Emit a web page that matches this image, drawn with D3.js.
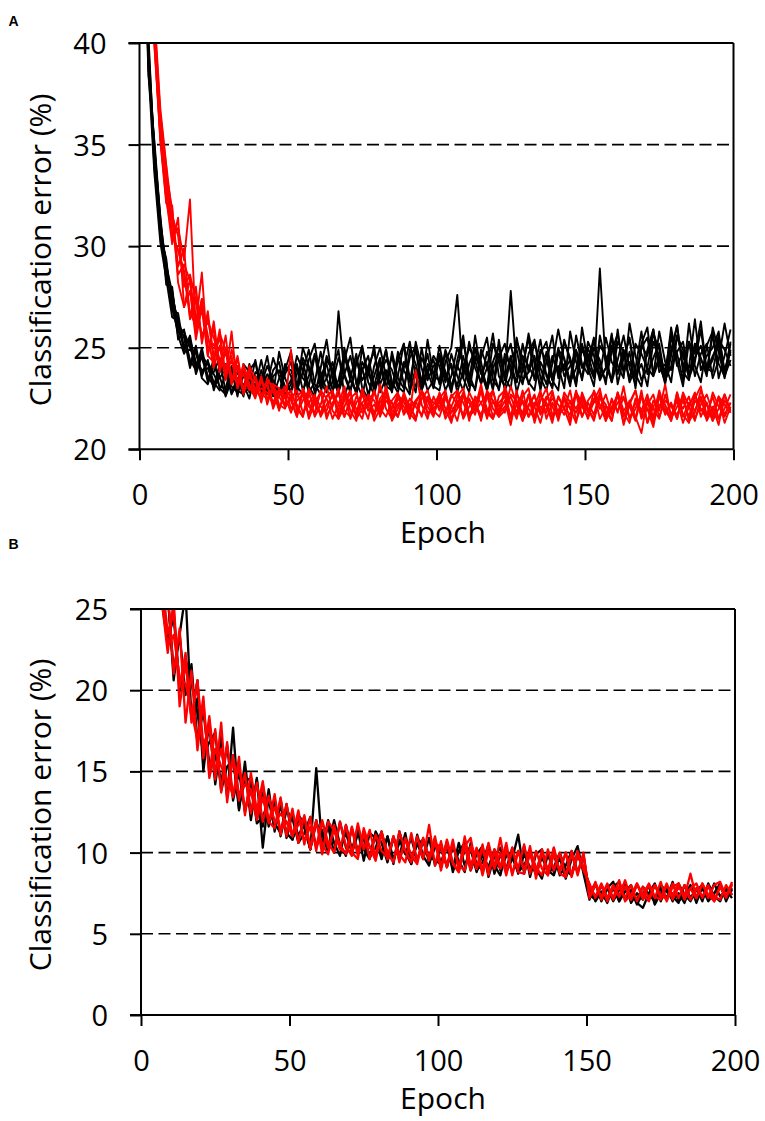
<!DOCTYPE html>
<html>
<head>
<meta charset="utf-8">
<script src="https://cdn.jsdelivr.net/npm/d3@7"></script>
<style>
html,body{margin:0;padding:0;background:#fff;}
svg{display:block;font-family:"Open Sans",sans-serif;}
</style>
</head>
<body>
<script>
// ---------- DATA ----------
// Every series holds one value per 2 epochs: epochs 1,3,5,...,199
const xTicks = [0, 50, 100, 150, 200];
const yTicksA = [20, 25, 30, 35, 40];
const yTicksB = [0, 5, 10, 15, 20, 25];
const xLabel = "Epoch";
const yLabel = "Classification error (%)";

// Panel A, black series
const blackA1 = [50.6,39.6,34.1,30.5,29.4,26.8,26.7,24.9,25.6,24.0,24.7,23.3,24.5,23.0,22.7,23.9,22.6,24.2,23.8,22.7,23.4,24.6,22.9,22.6,23.9,
 24.8,23.1,22.7,24.4,25.2,23.3,22.8,23.9,24.9,22.6,23.5,24.7,23.0,22.5,24.1,25.0,23.6,22.8,24.6,23.2,22.7,25.3,24.0,22.9,23.4,
 25.1,23.7,22.8,24.4,25.6,23.3,23.0,24.9,24.1,22.9,25.4,23.5,24.6,22.8,23.9,25.7,24.2,23.1,24.8,23.4,22.9,25.3,24.5,23.2,25.0,
 24.0,23.1,25.6,24.3,23.3,25.9,23.7,24.8,23.0,25.2,26.0,23.6,24.4,23.2,25.5,24.7,23.4,26.2,24.1,23.3,25.1,25.8,23.5,24.6,25.9];
const blackA2 = [48.6,38.4,35.2,31.4,28.1,28.0,25.4,25.9,24.2,25.1,23.6,24.4,22.9,23.8,24.2,22.8,23.5,22.6,23.9,24.3,22.8,23.2,24.5,23.6,22.7,
 23.2,24.6,23.9,22.8,23.3,24.8,23.5,22.6,26.8,23.7,22.9,24.2,25.1,23.3,22.7,23.8,24.9,23.0,23.6,25.2,22.8,24.0,23.4,24.7,23.1,
 22.9,24.3,25.0,27.6,23.5,22.8,24.6,23.9,23.1,25.2,24.4,22.9,23.6,25.5,24.0,23.3,22.9,24.7,25.3,23.6,24.1,23.0,25.8,24.3,23.5,
 25.3,24.6,23.4,24.0,25.7,23.2,24.5,25.5,23.7,23.1,24.9,25.9,24.2,23.3,24.6,26.1,23.8,23.4,25.2,24.5,23.6,26.0,24.8,23.5,24.9];
const blackA3 = [51.2,40.4,34.3,30.7,28.9,27.2,25.6,24.7,25.3,23.7,24.6,24.2,23.3,22.9,23.7,24.0,22.9,22.7,23.5,23.1,24.4,23.0,22.7,24.8,23.5,
 22.8,23.7,24.3,23.1,22.6,24.0,25.4,23.4,22.8,24.4,25.5,23.2,24.0,22.7,23.6,24.5,23.1,22.9,24.8,23.9,23.3,25.0,22.9,23.7,24.6,
 24.1,22.9,23.6,25.0,24.2,23.1,25.6,23.8,22.9,24.3,25.1,23.4,27.8,23.9,23.2,24.7,25.4,23.5,22.9,24.2,25.9,24.4,23.3,24.0,25.2,
 23.9,25.0,24.4,23.2,25.6,24.1,23.5,26.2,24.6,23.4,24.0,25.7,24.9,23.6,26.0,24.3,23.1,25.3,24.7,26.3,23.8,24.4,25.6,23.9,24.8];
const blackA4 = [49.4,38.7,33.6,30.2,28.4,26.5,26.3,25.5,24.0,24.9,23.5,23.2,24.1,23.6,22.6,23.4,24.1,22.8,23.0,24.4,22.9,23.7,23.2,22.6,24.2,
 23.6,22.7,24.5,23.9,22.9,23.2,24.6,23.8,22.7,25.0,23.4,22.9,24.3,23.7,25.1,22.8,23.5,24.6,23.1,22.8,24.9,24.2,23.0,25.4,23.6,
 23.4,24.8,23.0,24.0,25.3,23.7,22.9,24.5,25.5,23.4,23.0,24.7,24.1,23.3,25.2,23.8,24.6,22.9,24.3,25.6,23.5,24.2,23.1,24.9,24.0,
 24.7,23.6,28.9,24.1,23.4,25.3,24.8,23.3,24.0,25.8,23.7,24.5,25.2,23.4,24.1,25.6,24.9,23.5,24.3,25.9,23.8,24.6,25.2,23.6,24.4];
const blackA5 = [47.8,39.2,35.0,31.2,29.1,27.7,26.0,25.8,25.0,24.2,24.5,23.6,23.1,24.2,23.8,22.7,23.3,23.9,22.8,23.6,23.1,22.8,23.9,24.3,22.9,
 23.4,24.2,22.9,23.6,24.7,23.0,23.5,24.3,22.8,23.7,24.6,23.3,22.6,24.1,24.8,23.2,23.9,22.9,24.4,25.2,23.5,23.1,24.5,23.8,23.0,
 24.6,23.5,24.2,22.8,23.9,25.0,24.4,23.2,24.0,25.7,23.6,23.1,24.5,24.9,23.4,23.8,25.3,24.0,23.2,24.6,23.7,25.4,24.3,23.1,26.0,
 24.2,23.5,25.1,24.6,23.3,24.4,25.6,24.0,23.2,25.0,25.5,23.8,24.5,23.4,24.9,26.1,24.0,25.3,23.6,24.7,25.2,23.5,24.4,26.2,24.6];
const blackA6 = [50.9,39.9,34.7,31.5,28.6,27.4,26.4,24.8,24.9,24.7,23.8,24.3,23.7,23.1,23.0,24.1,23.4,23.2,22.5,23.8,23.6,23.3,22.6,23.5,24.0,
 23.9,23.0,25.0,24.1,22.8,23.6,24.2,22.9,23.4,24.7,23.8,22.7,23.9,24.6,23.1,23.5,24.9,23.3,22.8,24.0,25.3,23.6,22.9,24.2,23.7,
 24.7,23.8,23.1,24.1,23.5,25.3,24.0,23.3,24.8,23.9,22.9,24.4,25.2,23.6,24.1,25.5,23.4,24.3,23.7,23.0,24.9,24.5,23.3,25.6,24.2,
 23.7,25.4,24.0,23.4,24.8,25.7,23.9,24.3,23.5,25.1,24.6,25.9,23.8,24.2,23.3,25.6,24.5,24.0,26.4,23.9,24.6,25.0,25.8,23.7,25.3];
const blackA7 = [49.8,38.9,34.9,30.8,29.2,26.9,25.8,25.6,24.4,23.9,25.0,23.5,23.8,24.5,22.8,23.3,23.8,23.0,24.2,22.9,23.2,24.1,23.4,22.8,23.7,
 24.3,22.9,23.8,24.9,23.2,22.7,24.4,23.9,23.0,24.6,23.4,22.8,25.0,23.7,23.1,24.3,22.9,24.8,23.5,23.0,24.5,25.1,23.2,23.9,24.4,
 23.2,24.9,24.0,23.1,24.6,23.4,25.0,24.3,22.9,24.0,24.7,23.5,23.0,25.3,24.5,23.2,24.0,25.4,23.6,23.1,24.8,23.9,24.4,23.3,25.1,
 24.3,25.5,23.5,24.0,25.1,23.7,24.6,25.4,23.6,24.2,23.1,25.3,24.6,23.8,25.7,24.1,24.8,23.5,25.2,24.4,23.9,25.6,24.2,23.6,25.2];
const blackA8 = [48.9,39.4,33.9,30.9,28.5,27.8,25.9,25.1,25.4,24.3,23.9,24.0,23.2,23.5,24.0,23.1,22.8,23.6,23.4,23.0,23.9,22.7,23.6,23.9,23.1,
 22.9,24.0,23.5,23.1,24.6,23.8,22.9,23.3,24.5,23.6,22.8,24.4,23.4,24.0,22.9,23.7,24.4,23.9,23.0,24.3,23.6,22.8,25.0,23.4,24.1,
 24.4,23.3,24.7,23.6,22.9,24.2,24.9,23.7,24.3,23.0,24.5,25.2,23.8,23.3,24.6,24.1,23.5,24.9,24.4,23.4,25.0,23.6,24.1,24.8,23.4,
 25.0,24.1,23.6,25.5,24.3,23.8,24.9,23.4,25.2,24.7,24.0,23.6,25.8,24.3,23.9,24.8,25.3,23.7,24.5,25.1,24.0,23.8,25.4,24.9,24.1];

// Panel A, red series
const redA1 = [56.0,46.8,41.2,36.5,33.9,30.4,30.9,29.3,32.3,25.8,27.4,24.7,26.3,24.0,25.6,23.2,24.6,22.9,24.1,23.4,22.3,23.5,22.9,21.9,23.0,
 22.6,21.6,23.0,22.3,21.7,22.9,22.5,21.5,22.2,23.1,21.9,21.4,22.8,22.4,21.6,23.2,22.0,21.5,22.7,22.3,21.8,21.4,22.9,22.1,21.6,
 22.8,22.0,21.3,22.6,23.0,21.7,22.2,21.5,22.9,22.4,21.6,21.9,23.1,22.2,21.4,22.7,22.1,21.3,22.5,22.9,21.7,22.0,21.2,22.8,22.3,
 21.5,22.4,23.0,21.6,21.9,22.7,21.2,22.3,22.9,21.5,22.0,21.1,22.6,22.2,21.4,22.8,21.7,21.3,22.5,23.1,21.6,22.1,21.2,22.7,21.9];
const redA2 = [54.2,45.5,40.3,35.2,32.1,32.0,28.2,27.0,28.4,26.2,28.7,24.6,24.3,25.9,23.5,25.8,23.0,24.2,23.1,22.5,23.6,22.2,23.2,23.0,22.1,
 24.9,21.8,22.4,22.9,21.6,22.2,23.1,21.9,21.5,22.6,22.3,21.7,23.0,22.1,21.6,22.5,22.9,21.4,22.0,22.7,21.8,23.9,22.2,21.5,22.6,
 21.9,22.8,21.4,22.3,22.7,21.6,22.0,23.2,21.8,21.5,22.6,22.9,21.5,22.2,21.8,22.7,21.3,22.4,23.0,21.7,21.9,22.5,21.4,22.8,22.1,
 21.6,22.9,22.2,21.4,22.5,21.8,23.1,21.5,22.0,22.7,21.3,22.4,21.9,23.2,21.5,22.1,22.6,21.4,21.8,22.9,22.2,21.4,22.6,21.7,22.3];
const redA3 = [55.8,46.3,40.9,36.2,33.6,31.8,29.0,29.9,26.4,28.0,25.2,26.8,24.3,25.7,24.9,23.2,24.5,22.8,23.6,23.0,22.5,23.3,23.2,22.2,22.0,
 22.7,22.2,21.6,23.0,22.4,21.7,22.6,22.9,21.5,22.1,22.8,21.6,22.3,22.6,21.4,22.0,23.1,21.9,21.6,22.5,22.2,21.5,22.9,22.4,21.7,
 22.5,22.9,21.5,22.0,22.8,21.4,22.6,22.3,21.6,22.9,21.8,22.4,21.2,22.7,22.3,21.6,22.1,22.9,21.5,22.3,21.7,22.6,22.0,21.3,22.8,
 22.0,21.5,22.6,22.2,21.4,22.8,21.9,22.3,21.6,20.8,22.5,22.0,21.5,22.7,21.7,22.4,21.3,22.1,22.8,21.6,22.3,21.4,22.0,22.7,21.8];
const redA4 = [54.6,46.0,40.0,35.5,32.4,30.1,31.4,27.0,27.8,25.4,27.1,25.6,24.0,25.1,23.4,24.9,23.9,22.9,23.9,22.6,23.3,23.1,22.3,23.0,22.6,
 21.8,22.6,22.9,21.5,22.3,22.8,21.7,22.1,23.0,21.6,22.4,22.0,21.5,22.7,22.4,21.8,22.9,21.6,22.2,22.6,21.5,22.3,22.8,21.8,22.0,
 22.4,21.7,22.6,22.9,21.5,22.1,22.5,21.4,22.8,22.0,21.6,23.1,22.2,21.7,22.4,22.0,21.5,22.7,22.2,21.3,22.6,22.0,21.7,22.9,21.6,
 22.3,21.7,22.8,21.4,22.1,22.6,21.8,21.3,22.5,21.9,22.7,21.5,22.2,22.0,21.4,22.8,21.6,22.3,21.9,22.6,21.4,22.0,22.5,21.3,22.1];
const redA5 = [55.3,45.1,40.8,35.9,33.2,30.5,29.8,28.6,26.5,27.4,25.4,26.5,24.6,25.5,23.7,24.4,23.0,24.0,23.1,22.7,23.5,22.4,22.9,22.0,22.7,
 22.4,21.6,22.8,22.1,21.8,22.9,21.5,22.3,22.7,21.9,21.6,22.6,22.2,21.5,22.9,22.0,21.6,22.4,22.8,21.7,22.2,21.5,22.5,22.9,21.9,
 21.6,22.5,22.1,21.4,22.7,22.3,21.7,22.9,22.0,21.5,22.3,22.6,21.6,22.9,21.4,22.1,22.7,21.7,22.3,21.5,22.6,22.0,22.9,21.4,22.2,
 22.0,21.4,22.6,21.9,21.4,22.8,21.6,22.4,21.5,22.9,21.3,22.1,22.6,21.7,22.2,21.5,22.7,21.4,22.4,22.0,21.5,22.8,22.1,21.6,22.3];
const redA6 = [54.0,46.6,40.5,36.0,32.7,31.3,28.6,29.1,28.3,25.7,26.9,24.6,26.0,23.8,24.8,23.4,24.1,22.7,23.8,22.9,22.6,23.3,22.0,22.8,22.5,
 22.9,22.0,21.6,22.7,22.2,21.8,22.6,22.9,21.7,22.4,22.9,21.5,22.0,22.6,21.8,22.3,22.8,21.5,22.5,22.1,21.6,22.4,22.8,21.7,22.2,
 22.7,21.5,22.1,22.8,22.3,21.6,22.0,22.9,21.5,22.4,21.9,22.8,22.2,21.5,22.6,23.0,21.6,22.1,21.8,22.8,21.4,22.5,22.0,22.7,21.6,
 22.4,22.8,21.5,22.1,22.0,22.7,21.3,22.2,22.9,21.6,22.4,21.3,22.7,21.8,22.3,21.5,22.8,22.1,21.4,22.5,21.7,22.6,21.5,22.0,22.7];
const redA7 = [55.5,45.8,41.5,36.8,34.0,31.5,30.5,28.0,28.6,27.3,25.6,26.3,25.5,24.4,24.1,24.6,23.3,23.7,22.9,23.6,22.7,22.5,23.1,22.6,22.1,
 22.5,22.9,21.8,22.3,22.7,21.6,22.2,22.6,21.9,22.8,21.5,22.3,22.7,21.9,22.2,21.7,22.6,22.3,21.6,22.8,22.0,22.4,21.6,22.6,22.3,
 22.1,22.6,21.8,22.4,21.6,22.8,22.2,21.7,22.5,22.9,21.7,22.1,22.6,21.8,22.9,21.6,22.3,21.9,22.6,22.1,21.5,22.8,22.3,21.8,22.5,
 21.8,22.3,22.7,21.6,22.4,21.9,22.5,22.1,21.4,22.6,22.0,21.6,22.9,21.9,21.5,22.5,22.0,22.6,21.5,22.2,22.7,21.8,21.5,22.4,22.0];
const redA8 = [54.8,46.2,39.9,35.3,32.3,30.6,29.8,28.8,26.7,26.1,27.4,25.0,25.2,24.1,25.0,23.6,23.3,24.0,23.2,22.7,23.0,22.8,22.2,22.6,23.1,
 22.0,22.4,22.7,21.7,22.6,22.1,21.9,22.8,22.2,21.6,22.5,22.8,21.8,22.2,22.9,21.6,22.4,22.0,22.7,21.8,22.5,22.1,21.7,22.5,22.0,
 22.3,21.8,22.7,22.2,21.7,22.5,21.9,22.3,22.7,21.6,22.2,21.8,22.7,22.4,21.7,22.2,22.6,21.8,22.0,22.5,22.2,21.7,22.4,22.0,22.6,
 21.9,22.5,22.0,22.7,21.7,22.3,22.6,21.5,22.3,21.8,22.2,22.7,21.6,22.4,22.1,21.7,22.4,21.6,22.7,21.9,22.2,21.6,22.6,22.2,21.8];

// Panel B, black series
const blackB1 = [41.0,33.5,28.6,27.4,25.8,21.2,23.4,26.0,18.2,20.6,15.0,18.1,14.6,17.2,13.7,16.0,12.6,15.2,12.0,14.5,11.6,13.9,11.3,13.3,10.9,
 12.4,11.0,11.9,10.2,15.2,10.3,12.0,10.6,9.8,11.7,10.2,11.4,9.5,11.2,10.9,9.6,11.0,9.3,11.3,10.0,9.3,11.1,9.8,9.2,10.7,
 9.3,10.7,8.8,10.1,10.6,8.9,9.9,10.4,8.5,9.8,10.3,8.8,9.6,11.1,8.7,10.0,9.0,8.4,9.9,8.8,9.7,8.4,9.6,10.4,8.7,
 7.1,8.1,7.0,7.8,8.2,7.0,7.6,8.0,6.9,6.6,7.5,8.1,7.0,7.9,7.3,6.9,8.0,7.2,7.8,7.0,8.1,7.3,7.0,7.9,7.4];
const blackB2 = [39.2,32.8,30.2,25.4,22.9,24.6,19.9,22.0,18.3,19.5,16.1,17.9,14.2,16.8,13.4,17.7,12.7,15.6,12.3,14.6,10.3,13.5,11.8,11.2,13.0,
 10.8,12.3,11.8,10.2,12.0,10.4,11.6,10.0,11.9,10.3,9.9,11.6,10.2,9.6,11.3,10.6,9.4,10.9,9.8,11.2,9.3,10.6,9.6,10.9,9.2,
 10.5,9.1,10.3,9.5,8.8,10.6,9.3,8.9,10.3,9.2,8.6,10.1,9.7,8.8,10.4,8.5,9.9,10.2,8.7,9.1,10.0,8.9,8.6,9.8,9.1,
 8.0,7.0,7.6,6.9,7.9,8.2,7.1,7.7,6.8,7.5,8.0,6.9,7.8,7.2,8.2,7.0,7.4,8.0,6.9,7.9,7.2,8.1,7.3,7.7,7.2];
const blackB3 = [40.5,34.0,28.3,27.6,26.0,20.6,23.5,19.7,21.6,16.9,18.7,15.5,16.0,14.3,16.6,13.2,15.0,12.5,14.4,12.0,13.7,11.6,13.3,11.0,12.6,
 12.1,10.6,11.2,12.2,10.3,11.4,10.2,12.0,10.5,9.8,11.5,10.1,11.1,9.7,10.3,11.3,9.9,9.5,10.8,9.9,10.9,9.5,10.7,9.8,9.5,
 9.3,10.4,9.0,10.6,9.2,10.2,8.9,9.4,10.5,8.7,9.9,9.0,10.3,8.8,9.2,10.1,8.7,9.7,8.9,9.9,8.6,9.2,10.1,8.8,9.8,
 7.5,8.1,7.1,7.8,7.0,7.7,8.1,6.9,7.5,7.1,8.0,6.8,7.5,7.9,7.0,8.1,7.4,7.0,7.7,8.0,7.1,7.5,8.1,7.0,7.8];
const blackB4 = [38.6,32.4,29.7,25.9,22.8,24.9,20.2,21.9,20.4,18.6,16.0,16.8,17.4,13.8,15.3,15.7,12.9,14.4,14.6,11.8,12.2,13.2,11.5,12.9,11.2,
 10.8,12.0,11.5,10.2,11.8,11.2,10.0,11.7,10.3,11.2,10.0,11.1,10.8,9.8,11.2,9.9,11.0,9.6,10.6,10.9,9.6,10.5,10.8,9.4,10.3,
 10.2,9.2,10.5,9.1,10.1,10.3,8.8,9.9,9.1,10.2,8.9,9.8,10.0,8.7,9.9,9.1,8.8,10.0,8.9,8.6,9.8,9.0,8.7,10.0,8.9,
 7.4,7.1,8.0,7.2,7.8,7.0,8.0,7.3,7.1,7.9,7.4,7.0,8.0,7.6,7.1,7.5,6.9,7.9,7.3,7.8,7.0,7.5,7.9,7.2,7.7];

// Panel B, red series
const redB1 = [42.0,33.8,28.2,25.5,22.3,25.6,19.0,21.7,18.3,20.6,16.6,17.7,14.5,18.0,13.1,16.0,13.6,14.2,13.9,12.3,14.2,11.8,13.6,11.1,13.0,
 11.0,12.6,10.5,12.2,10.1,12.0,10.6,10.0,11.9,10.4,9.8,11.8,10.2,11.4,9.7,11.2,10.0,9.4,11.3,10.1,9.4,11.0,9.6,11.7,9.2,
 10.7,9.1,10.8,8.9,11.0,9.2,10.3,8.9,10.6,9.1,10.9,8.8,10.2,9.0,10.5,8.7,10.1,9.0,8.6,10.3,8.8,10.0,8.5,10.1,8.9,
 8.1,7.2,8.0,7.0,7.9,7.3,8.3,7.1,8.1,7.4,7.0,8.0,7.2,8.1,7.1,7.9,7.3,8.7,7.2,8.1,7.4,7.0,8.0,7.3,8.2];
const redB2 = [40.8,32.6,29.0,26.0,26.2,21.0,23.8,18.0,21.2,16.3,19.3,14.8,17.6,13.7,16.8,13.4,15.9,12.3,14.9,12.6,14.4,11.9,11.5,13.4,11.0,
 12.7,10.6,12.3,10.3,12.0,9.9,11.9,11.4,10.2,11.7,10.0,9.6,11.5,10.3,9.9,11.3,9.6,11.0,9.9,9.4,11.2,9.5,10.8,9.7,11.0,
 9.1,10.8,9.4,8.8,10.4,10.9,9.0,10.5,8.6,10.2,9.1,10.6,8.6,10.1,8.9,10.4,8.4,10.0,8.9,10.3,8.7,8.5,10.1,8.6,10.0,
 7.3,8.2,7.1,8.0,7.2,8.3,7.0,7.4,8.1,7.1,8.0,7.2,8.2,7.0,7.9,8.1,7.1,7.8,7.2,8.1,7.2,8.0,8.2,7.3,8.1];
const redB3 = [43.0,34.5,29.8,27.0,23.5,24.8,20.2,22.3,18.0,20.6,15.8,18.4,15.0,16.4,14.1,15.7,13.2,14.9,12.4,14.3,11.9,13.5,11.8,12.4,11.9,
 11.0,12.3,10.7,11.6,10.4,11.9,10.3,11.4,10.5,9.9,11.6,10.0,11.3,9.6,11.1,10.1,9.7,11.0,9.5,10.8,9.8,9.5,10.9,9.6,10.6,
 10.3,9.1,10.5,9.2,8.9,10.4,9.0,10.3,8.8,10.0,9.0,10.2,8.7,10.1,8.9,9.9,8.7,10.2,8.6,9.9,8.9,10.0,8.6,9.8,9.1,
 7.9,7.3,8.1,7.2,8.0,7.3,7.9,7.1,8.0,7.4,8.1,7.3,7.1,8.0,7.4,8.1,7.2,7.8,8.1,7.2,7.9,7.3,7.1,8.0,7.4];
const redB4 = [39.5,33.2,28.4,25.8,22.7,23.4,20.8,20.4,18.7,16.9,19.6,14.6,16.4,15.3,14.5,13.5,15.4,12.6,13.8,12.0,13.4,11.9,12.8,11.4,11.9,
 11.1,11.7,12.2,10.2,11.9,10.5,9.9,11.7,10.2,10.0,11.5,9.8,11.1,10.4,9.5,11.2,9.6,11.0,9.4,10.9,9.8,9.3,10.9,9.5,10.7,
 8.9,10.5,9.3,8.8,10.4,8.9,10.2,8.6,10.1,9.0,10.0,8.6,10.3,8.8,8.7,10.1,9.1,8.6,10.2,8.9,10.0,8.5,9.9,8.8,9.9,
 7.2,8.0,7.3,8.1,7.1,7.9,7.2,8.0,7.0,7.9,7.2,8.0,7.4,7.1,8.1,7.2,8.0,7.1,7.8,7.3,8.0,7.0,7.9,7.2,8.0];

// ---------- DRAWING ----------
const W = 765, H = 1121;
const svg = d3.select("body").append("svg").attr("width", W).attr("height", H);

function epochOf(i) { return 1 + 2 * i; }

function drawPanel(cfg) {
  const x = d3.scaleLinear().domain([0, 200]).range([cfg.left, cfg.right]);
  const y = d3.scaleLinear().domain(cfg.yDomain).range([cfg.bottom, cfg.top]);
  const g = svg.append("g");
  const clipId = "clip" + cfg.name;
  svg.append("defs").append("clipPath").attr("id", clipId)
    .append("rect").attr("x", cfg.left).attr("y", cfg.top)
    .attr("width", cfg.right - cfg.left).attr("height", cfg.bottom - cfg.top);

  // dashed gridlines (interior ticks)
  g.append("g").selectAll("line")
    .data(cfg.yTicks.filter(v => v !== cfg.yDomain[0] && v !== cfg.yDomain[1]))
    .join("line")
    .attr("x1", cfg.left).attr("x2", cfg.right)
    .attr("y1", d => y(d)).attr("y2", d => y(d))
    .attr("stroke", "#000").attr("stroke-width", 1.6)
    .attr("stroke-dasharray", "12,5.5");

  // series
  const line = d3.line().x((d, i) => x(epochOf(i))).y(d => y(d));
  const lg = g.append("g").attr("clip-path", `url(#${clipId})`).attr("fill", "none")
    .attr("stroke-linejoin", "round");
  lg.selectAll("path.blk").data(cfg.black).join("path").attr("class", "blk")
    .attr("d", line).attr("stroke", "#000").attr("stroke-width", cfg.lw);
  lg.selectAll("path.red").data(cfg.red).join("path").attr("class", "red")
    .attr("d", line).attr("stroke", "#ff0000").attr("stroke-width", cfg.lw);

  // axes with ticks + labels
  const yAxis = d3.axisLeft(y).tickValues(cfg.yTicks).tickSize(11).tickPadding(22)
    .tickFormat(d3.format("d"));
  const ya = g.append("g").attr("transform", `translate(${cfg.left},0)`).call(yAxis);
  ya.select(".domain").remove();
  ya.selectAll(".tick line").attr("stroke", "#000").attr("stroke-width", 2);
  ya.selectAll(".tick text").attr("font-family", "Open Sans").attr("font-size", 29)
    .attr("fill", "#000").attr("dy", "0.36em");

  const xAxis = d3.axisBottom(x).tickValues(xTicks).tickSize(11).tickPadding(24.5)
    .tickFormat(d3.format("d"));
  const xa = g.append("g").attr("transform", `translate(0,${cfg.bottom})`).call(xAxis);
  xa.select(".domain").remove();
  xa.selectAll(".tick line").attr("stroke", "#000").attr("stroke-width", 2);
  xa.selectAll(".tick text").attr("font-family", "Open Sans").attr("font-size", 29)
    .attr("fill", "#000");

  // frame
  const frame = g.append("g").attr("stroke", "#000").attr("stroke-width", 2);
  frame.append("line").attr("x1", cfg.left).attr("x2", cfg.left).attr("y1", cfg.top).attr("y2", cfg.bottom);
  frame.append("line").attr("x1", cfg.right).attr("x2", cfg.right).attr("y1", cfg.top).attr("y2", cfg.bottom);
  frame.append("line").attr("x1", cfg.left - 11).attr("x2", cfg.right).attr("y1", cfg.top).attr("y2", cfg.top);
  frame.append("line").attr("x1", cfg.left - 11).attr("x2", cfg.right).attr("y1", cfg.bottom).attr("y2", cfg.bottom);

  // axis titles
  g.append("text").attr("x", 443).attr("y", cfg.bottom + 93.5)
    .attr("text-anchor", "middle").attr("font-size", 30).attr("fill", "#000").text(xLabel);
  g.append("text").attr("transform", `translate(51,${cfg.titleY}) rotate(-90)`)
    .attr("text-anchor", "middle").attr("font-size", 30).attr("fill", "#000").text(yLabel);

  // panel letter
  g.append("text").attr("x", 8.5).attr("y", cfg.letterY).attr("font-size", 14)
    .attr("font-weight", "bold").attr("font-family", "Liberation Sans, Arial, sans-serif")
    .attr("fill", "#000").text(cfg.name);
}

drawPanel({
  name: "A", left: 139.5, right: 733.5, top: 43, bottom: 449.3,
  yDomain: [20, 40], yTicks: yTicksA, lw: 1.9,
  black: [blackA1, blackA2, blackA3, blackA4, blackA5, blackA6, blackA7, blackA8],
  red: [redA1, redA2, redA3, redA4, redA5, redA6, redA7, redA8],
  titleY: 250, letterY: 26
});
drawPanel({
  name: "B", left: 141, right: 735, top: 609, bottom: 1015,
  yDomain: [0, 25], yTicks: yTicksB, lw: 2.3,
  black: [blackB1, blackB2, blackB3, blackB4],
  red: [redB1, redB2, redB3, redB4],
  titleY: 815, letterY: 549
});
</script>
</body>
</html>
